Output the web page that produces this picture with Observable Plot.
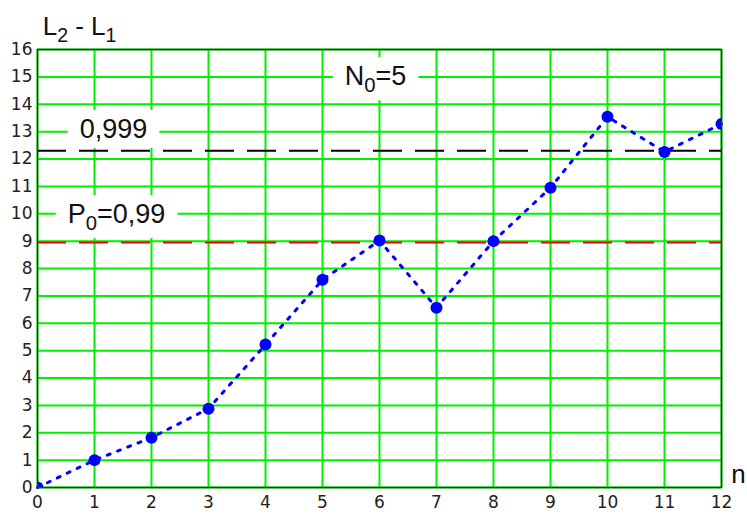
<!DOCTYPE html>
<html><head><meta charset="utf-8">
<script src="https://cdn.jsdelivr.net/npm/d3@7"></script>
<script src="https://cdn.jsdelivr.net/npm/@observablehq/plot@0.6"></script>
<style>body{margin:0;background:#fff} svg{display:block}</style>
</head><body><div id="chart"></div>
<script>
// data
const nValues = [0,1,2,3,4,5,6,7,8,9,10,11,12];
const diffValues = [0,1.0,1.82,2.88,5.22,7.59,9.02,6.57,9.0,10.95,13.54,12.26,13.28];
const xTicks = [0,1,2,3,4,5,6,7,8,9,10,11,12];
const yTicks = [0,1,2,3,4,5,6,7,8,9,10,11,12,13,14,15,16];
const levelValues = [12.3, 8.95];
const levelColors = ["black", "red"];
// annotation texts: [main, subscript, rest], anchored at data coordinates
const annoParts = [["N","0","=5"],["0,999","",""],["P","0","=0,99"]];
const annoX = [5.4, 0.75, 0.54];
const annoY = [14.68, 12.75, 9.64];
const axisLabelParts = [["L","2"," - L"],["n","",""]];
const axisLabelSub2 = ["1",""];
const axisLabelX = [0.1, 12.18];
const axisLabelY = [16.5, 0.15];

const points = nValues.map((n,i)=>({n, v: diffValues[i]}));
const levels = levelValues.map((v,i)=>({v, c: levelColors[i]}));

const plot = Plot.plot({
  width: 747, height: 516,
  marginLeft: 37, marginRight: 26, marginTop: 49, marginBottom: 29,
  x: {domain: [0,12]},
  y: {domain: [0,16]},
  style: {fontFamily: "'DejaVu Sans', sans-serif", background: "#fff"},
  marks: [
    Plot.gridX(xTicks, {stroke: "#00f000", strokeOpacity: 1, strokeWidth: 2}),
    Plot.gridY(yTicks, {stroke: "#00f000", strokeOpacity: 1, strokeWidth: 2}),
    Plot.ruleY(levels, {y: "v", stroke: "c", strokeWidth: 2, strokeDasharray: "29,13"}),
    Plot.line(points, {x: "n", y: "v", stroke: "#0000ff", strokeWidth: 3, strokeDasharray: "3,8"}),
    Plot.dot(points, {x: "n", y: "v", r: 6, fill: "#0000ff", stroke: "none", clip: true}),
    Plot.frame({stroke: "#333", strokeWidth: 1.5}),
    Plot.axisX(xTicks, {tickSize: 0, tickPadding: 8, fontSize: 17, fill: "#222", label: null}),
    Plot.axisY(yTicks, {tickSize: 0, tickPadding: 5, fontSize: 17, fill: "#222", label: null})
  ]
});
document.getElementById("chart").appendChild(plot);

const svg = d3.select(plot);
const sx = plot.scale("x"), sy = plot.scale("y");
const font = "'Liberation Sans', Arial, sans-serif";

function addText(g, parts, sub2, x, y, size) {
  const t = g.append("text").attr("x", sx.apply(x)).attr("y", sy.apply(y))
    .attr("text-anchor", "start")
    .attr("font-family", font).attr("font-size", size).attr("fill", "#111");
  t.append("tspan").text(parts[0]);
  if (parts[1]) t.append("tspan").attr("dy", 7).attr("font-size", size*0.75).text(parts[1]);
  if (parts[2]) t.append("tspan").attr("dy", parts[1] ? -7 : 0).text(parts[2]);
  if (sub2) t.append("tspan").attr("dy", 7).attr("font-size", size*0.75).text(sub2);
  return t;
}

// white boxes behind annotations, placed after grid
const ygrid = plot.querySelector('g[aria-label="y-grid"]');
const boxG = document.createElementNS("http://www.w3.org/2000/svg", "g");
plot.insertBefore(boxG, ygrid.nextSibling);
const textG = svg.append("g");
annoParts.forEach((p,i)=>{
  const t = addText(textG, p, "", annoX[i], annoY[i], 27);
  const b = t.node().getBBox();
  d3.select(boxG).append("rect").attr("x", b.x-12).attr("y", b.y-4).attr("width", b.width+24).attr("height", b.height+8).attr("fill", "white");
});
axisLabelParts.forEach((p,i)=>{
  addText(textG, p, axisLabelSub2[i], axisLabelX[i], axisLabelY[i], 26);
});
</script>
</body></html>
